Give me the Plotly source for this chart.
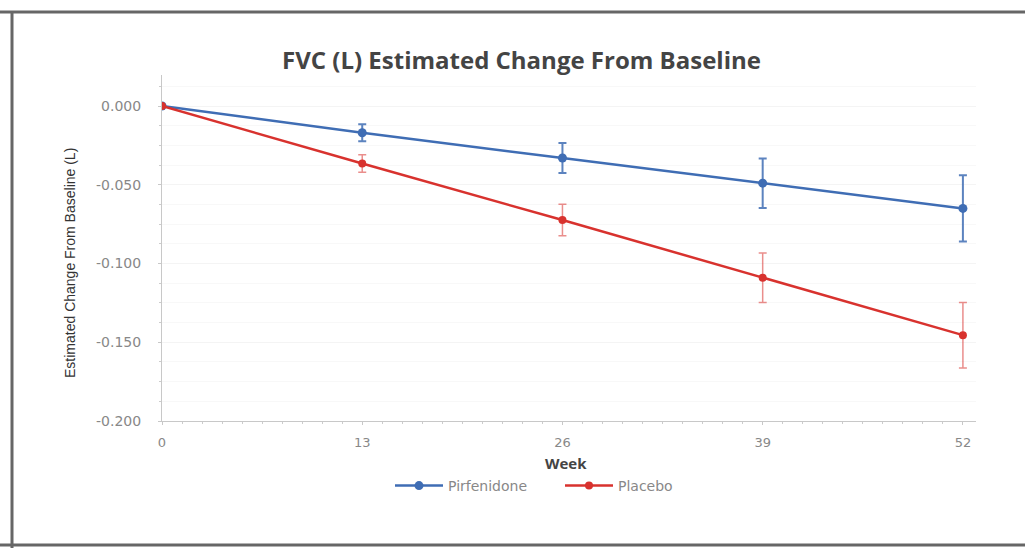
import plotly.graph_objects as go

# FVC change from baseline by study week
weeks = [0, 13, 26, 39, 52]
pirfenidone = [0.000, -0.017, -0.033, -0.049, -0.065]
pirfenidone_err = [0.0, 0.0054, 0.0095, 0.0157, 0.021]
placebo = [0.000, -0.0365, -0.0724, -0.109, -0.1455]
placebo_err = [0.0, 0.0055, 0.0100, 0.0157, 0.0208]
y_ticks = [0.0, -0.05, -0.10, -0.15, -0.20]
y_tick_labels = ["0.000", "-0.050", "-0.100", "-0.150", "-0.200"]

BLUE = "#3f6db4"
RED = "#d8322e"
FONT = "Open Sans, Liberation Sans, Arial, sans-serif"
TICK_FONT = "DejaVu Sans, sans-serif"

fig = go.Figure()
fig.add_trace(go.Scatter(
    x=weeks, y=pirfenidone, name="Pirfenidone", mode="lines+markers",
    line=dict(color=BLUE, width=2.5), marker=dict(color=BLUE, size=9),
    error_y=dict(type="data", array=pirfenidone_err, visible=True,
                 color="rgba(63,109,180,0.85)", thickness=2, width=4),
))
fig.add_trace(go.Scatter(
    x=weeks, y=placebo, name="Placebo", mode="lines+markers",
    line=dict(color=RED, width=2.5), marker=dict(color=RED, size=8),
    error_y=dict(type="data", array=placebo_err, visible=True,
                 color="rgba(216,50,46,0.55)", thickness=1.5, width=4),
))

# plot area geometry in pixels
L, R, T, B = 162, 976, 75, 421
W, H = 1025, 548
pw, ph = R - L, B - T


def px(x):
    return (x - L) / pw


def py(y):
    return (B - y) / ph


fig.update_layout(
    width=W, height=H,
    margin=dict(l=L, r=W - R, t=T, b=H - B),
    paper_bgcolor="white", plot_bgcolor="white",
    font=dict(family=FONT, color="#777777"),
    showlegend=True,
    legend=dict(orientation="h", x=px(390), y=py(486), xanchor="left", yanchor="middle",
                font=dict(size=14, color="#888888", family=TICK_FONT), itemwidth=48,
                entrywidth=107, entrywidthmode="pixels",
                bgcolor="rgba(0,0,0,0)"),
    xaxis=dict(range=[0, 52.85], tickvals=weeks, ticktext=[str(w) for w in weeks],
               showgrid=False, zeroline=False, showline=True, linecolor="#c8c8c8",
               linewidth=1, ticks="outside", ticklen=3, tickcolor="#c8c8c8",
               ticklabelstandoff=6,
               tickfont=dict(size=13, color="#888888", family=TICK_FONT),
               minor=dict(ticks="outside", dtick=1.3, ticklen=2, tickcolor="#cccccc")),
    yaxis=dict(range=[-0.2, 0.0197], tickvals=y_ticks, ticktext=y_tick_labels,
               showgrid=True, gridcolor="#f4f4f4", gridwidth=1, zeroline=False,
               showline=True, linecolor="#c8c8c8", linewidth=1, ticks="outside",
               ticklen=3, tickcolor="#c8c8c8", ticklabelstandoff=14,
               tickfont=dict(size=14, color="#888888", family=TICK_FONT),
               minor=dict(ticks="outside", dtick=0.0125, ticklen=2, tickcolor="#cccccc",
                          showgrid=True, gridcolor="#f8f8f8")),
)

fig.add_annotation(text="<b>FVC (L) Estimated Change From Baseline</b>",
                   xref="paper", yref="paper", x=px(521), y=py(60),
                   xanchor="center", yanchor="middle", showarrow=False,
                   font=dict(size=24, color="#444444", family=FONT))
fig.add_annotation(text="Estimated Change From Baseline (L)",
                   xref="paper", yref="paper", x=px(70), y=py(263),
                   xanchor="center", yanchor="middle", showarrow=False, textangle=-90,
                   font=dict(size=14, color="#333333", family="Liberation Sans, Arial, sans-serif"))
fig.add_annotation(text="<b>Week</b>",
                   xref="paper", yref="paper", x=px(566), y=py(463),
                   xanchor="center", yanchor="middle", showarrow=False,
                   font=dict(size=15, color="#444444", family=FONT))

# outer frame lines
frame = dict(color="#666666", width=3)
fig.add_shape(type="line", xref="paper", yref="paper",
              x0=px(0), x1=px(W), y0=py(12), y1=py(12), line=frame)
fig.add_shape(type="line", xref="paper", yref="paper",
              x0=px(12), x1=px(12), y0=py(12), y1=py(548), line=frame)
fig.add_shape(type="line", xref="paper", yref="paper",
              x0=px(0), x1=px(W), y0=py(545), y1=py(545), line=frame)

fig.write_html("out.html")
